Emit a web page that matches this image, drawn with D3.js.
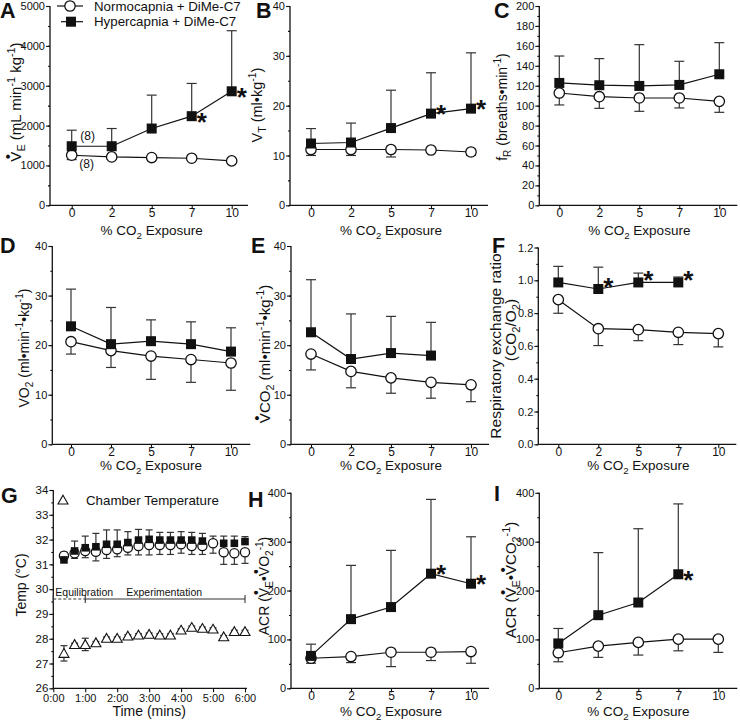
<!DOCTYPE html>
<html><head><meta charset="utf-8">
<script src="https://cdn.jsdelivr.net/npm/d3@7"></script>
<style>body{margin:0;background:#fff}svg{display:block}text{font-family:'Liberation Sans',Arial,Helvetica,sans-serif;fill:#111}</style>
</head><body><script>
// ---------------- DATA ----------------
const co2Levels = ["0", "2", "5", "7", "10"];
const seriesNames = ["Normocapnia + DiMe-C7", "Hypercapnia + DiMe-C7"];

// A: minute ventilation (mL min-1 kg-1)
const veNormo = [1256, 1214, 1198, 1181, 1114];
const veNormoErr = [110, 60, 40, 40, 40];
const veHyper = [1482, 1482, 1926, 2236, 2860];
const veHyperErr = [402, 444, 838, 821, 1520];
// B: tidal volume (ml kg-1)
const vtNormo = [11.2, 11.2, 11.2, 11.1, 10.7];
const vtNormoErr = [1.2, 1.2, 1.5, 0.3, 0.7];
const vtHyper = [12.4, 12.6, 15.5, 18.4, 19.4];
const vtHyperErr = [3.0, 3.9, 7.6, 8.2, 11.2];
// C: breathing frequency
const frNormo = [112.7, 109, 107.7, 107.7, 104.3];
const frNormoErr = [12, 11.7, 13.4, 10, 11];
const frHyper = [122.8, 120.5, 119.8, 120.8, 131.5];
const frHyperErr = [27, 26.7, 41.4, 23.7, 31.7];
// D: VO2
const vo2Normo = [20.7, 18.9, 17.8, 17.1, 16.4];
const vo2NormoErr = [2.5, 3.4, 4.7, 4.6, 5.5];
const vo2Hyper = [23.8, 20.2, 20.8, 20.2, 18.7];
const vo2HyperErr = [7.5, 7.4, 4.3, 4.5, 4.8];
// E: VCO2
const vco2Normo = [18.2, 14.7, 13.4, 12.5, 12.0];
const vco2NormoErr = [3.2, 3.3, 3.1, 3.2, 3.4];
const vco2Hyper = [22.6, 17.2, 18.4, 17.9, null];
const vco2HyperErr = [10.6, 9.1, 7.4, 6.7, null];
// F: respiratory exchange ratio
const rerNormo = [0.882, 0.705, 0.699, 0.683, 0.675];
const rerNormoErr = [0.083, 0.103, 0.067, 0.075, 0.081];
const rerHyper = [0.987, 0.947, 0.987, 0.987, null];
const rerHyperErr = [0.098, 0.133, 0.057, 0.033, null];
// H: ACR (VE/VO2)
const acrO2Normo = [61.5, 65, 73.8, 73.8, 75.2];
const acrO2NormoErr = [10.2, 12.4, 29.4, 17, 24];
const acrO2Hyper = [66.3, 141.5, 166.2, 234.5, 214];
const acrO2HyperErr = [24, 110, 116, 152, 96];
// I: ACR (VE/VCO2)
const acrCO2Normo = [72.7, 86.3, 93.9, 100.6, 100.6];
const acrCO2NormoErr = [18.4, 23, 25.9, 23.9, 27.1];
const acrCO2Hyper = [91.8, 149.6, 175.5, 233.3, null];
const acrCO2HyperErr = [30.6, 128, 151, 144, null];

// significance markers (hypercapnia series)
const starsA = ["7", "10"];
const starsB = ["7", "10"];
const starsF = ["2", "5", "7"];
const starsH = ["7", "10"];
const starsI = ["7"];

// G: body / chamber temperature over time
const timePoints = ["0:20","0:40","1:00","1:20","1:40","2:00","2:20","2:40","3:00",
                    "3:20","3:40","4:00","4:20","4:40","5:00","5:20","5:40","6:00"];
const timeTickLabels = ["0:00","1:00","2:00","3:00","4:00","5:00","6:00"];
const tempNormo = [31.35,31.45,31.54,31.51,31.58,31.61,31.67,31.74,31.78,31.78,31.78,31.81,31.74,31.74,31.85,31.49,31.45,31.49];
const tempNormoErrDown = [0.15,0.21,0.27,0.37,0.34,0.30,0.29,0.36,0.40,0.38,0.38,0.36,0.34,0.34,0.40,0.49,0.45,0.45];
const tempNormoErrUp = [null,null,null,null,null,null,null,null,null,null,null,null,null,null,0.29,null,null,null];
const tempHyper = [31.18,31.54,31.67,31.71,31.81,31.81,31.88,31.98,32.01,31.98,31.98,31.98,31.98,31.94,null,31.85,31.85,31.92];
const tempHyperErr = [0.31,0.40,0.47,0.54,0.58,0.58,0.44,0.43,0.38,0.31,0.31,0.34,0.31,0.31,null,0.29,0.29,0.20];
const tempChamber = [27.41,27.77,27.77,27.84,28.02,28.02,28.11,28.15,28.18,28.15,28.15,28.35,28.46,28.42,28.39,28.08,28.29,28.29];
const tempChamberErr = [0.31,0.05,0.25,0.05,0.05,0.05,0.05,0.05,0.05,0.05,0.05,0.05,0.05,0.05,0.05,0.05,0.05,0.05];
const phaseLabels = ["Equilibration", "Experimentation"];
const phaseBounds = [0, 1, 6];   // minutes
const phaseLevel = 29.6;         // °C line level

// ---------------- DRAWING ----------------
const svg = d3.select("body").append("svg").attr("width", 740).attr("height", 721);
const INK = "#111", ERR = "#333";

function rich(sel, segs, fs) {
  let shift = 0, pendingDx = 0;
  const Vw = 0.667 * fs, dw = 0.35 * fs;
  segs.forEach(([type, str]) => {
    const t = sel.append("tspan");
    let target = 0, size = fs, dx = pendingDx;
    pendingDx = 0;
    if (type === "sub") { target = 0.28 * fs; size = 0.72 * fs; }
    else if (type === "sup") { target = -0.42 * fs; size = 0.72 * fs; }
    else if (type === "dot") { target = -0.55 * fs; str = "\u2022"; dx += -(Vw + dw) / 2; pendingDx = (Vw - dw) / 2; }
    t.attr("dy", (target - shift).toFixed(2)).attr("font-size", size).text(str);
    if (dx) t.attr("dx", dx.toFixed(2));
    shift = target;
  });
}

function yLabel(segs, x, y, fs) {
  const t = svg.append("text").attr("transform", `translate(${x},${y}) rotate(-90)`)
    .attr("text-anchor", "middle").attr("font-size", fs);
  rich(t, segs, fs);
}

function letter(ch, x, y) {
  svg.append("text").attr("x", x).attr("y", y).attr("font-size", 21.5).attr("font-weight", "bold").text(ch);
}

function yAxisDraw(g, y, axisX, yMax, step, fmt, fs) {
  const n = Math.round(yMax / step);
  const major = d3.range(n + 1).map(i => i * step);
  const minor = d3.range(2 * n + 1).map(i => i * step / 2);
  const ax = g.append("g").attr("transform", `translate(${axisX},0)`);
  ax.call(d3.axisLeft(y).tickValues(minor).tickSize(2).tickSizeOuter(0).tickFormat(""));
  const ax2 = g.append("g").attr("transform", `translate(${axisX},0)`);
  ax2.call(d3.axisLeft(y).tickValues(major).tickSize(4).tickSizeOuter(0).tickPadding(1).tickFormat(fmt));
  [ax, ax2].forEach(a => { a.select(".domain").remove(); a.selectAll("line").attr("stroke", INK).attr("stroke-width", 1.1); });
  ax2.selectAll("text").attr("font-size", fs).attr("fill", INK).attr("font-family", null);
  g.append("line").attr("x1", axisX).attr("x2", axisX).attr("y1", y.range()[0]).attr("y2", y.range()[1])
    .attr("stroke", INK).attr("stroke-width", 1.3);
}

function markerCircle(g, cx, cy, r) {
  g.append("circle").attr("cx", cx).attr("cy", cy).attr("r", r).attr("fill", "#fff").attr("stroke", INK).attr("stroke-width", 1.3);
}
function markerSquare(g, cx, cy, s) {
  g.append("rect").attr("x", cx - s / 2).attr("y", cy - s / 2).attr("width", s).attr("height", s).attr("fill", INK);
}
function errBar(g, cx, y0, y1, cap) {
  g.append("line").attr("x1", cx).attr("x2", cx).attr("y1", y0).attr("y2", y1).attr("stroke", ERR).attr("stroke-width", 1.2);
  g.append("line").attr("x1", cx - cap).attr("x2", cx + cap).attr("y1", y1).attr("y2", y1).attr("stroke", ERR).attr("stroke-width", 1.2);
}

const xTitle = [["n", "% CO"], ["sub", "2"], ["n", " Exposure"]];

function co2Panel(p) {
  const g = svg.append("g");
  const x = d3.scalePoint().domain(co2Levels).range([p.x0, p.x0 + 160]);
  const y = d3.scaleLinear().domain([0, p.yMax]).range([p.bottom, p.top]);
  yAxisDraw(g, y, p.axisX, p.yMax, p.step, p.fmt, 11);
  const xa = g.append("g").attr("transform", `translate(0,${p.bottom})`)
    .call(d3.axisBottom(x).tickSize(4).tickSizeOuter(0).tickPadding(0));
  xa.select(".domain").remove();
  xa.selectAll("line").attr("stroke", INK).attr("stroke-width", 1.1);
  xa.selectAll("text").attr("font-size", 12).attr("fill", INK).attr("font-family", null).attr("dy", "0.64em");
  g.append("line").attr("x1", p.axisX).attr("x2", p.axisX + 198).attr("y1", p.bottom).attr("y2", p.bottom)
    .attr("stroke", INK).attr("stroke-width", 1.3);
  const tt = g.append("text").attr("x", p.x0 + 80).attr("y", p.bottom + p.titleGap).attr("text-anchor", "middle").attr("font-size", 13.5);
  rich(tt, xTitle, 13.5);

  const series = [
    { vals: p.normo, err: p.normoErr, dir: -1 },
    { vals: p.hyper, err: p.hyperErr, dir: 1 }
  ];
  const ptsOf = s => co2Levels.map((c, i) => ({ c, v: s.vals[i], e: s.err[i] })).filter(d => d.v != null);
  series.forEach(s => ptsOf(s).forEach(d => errBar(g, x(d.c), y(d.v), y(d.v + s.dir * d.e), 5)));
  series.forEach(s => g.append("path").datum(ptsOf(s))
    .attr("d", d3.line().x(d => x(d.c)).y(d => y(d.v))).attr("fill", "none").attr("stroke", INK).attr("stroke-width", 1.2));
  ptsOf(series[0]).forEach(d => markerCircle(g, x(d.c), y(d.v), 5.2));
  ptsOf(series[1]).forEach(d => markerSquare(g, x(d.c), y(d.v), 10));
  (p.stars || []).forEach(c => {
    const i = co2Levels.indexOf(c);
    g.append("text").attr("x", x(c) + 10).attr("y", y(p.hyper[i]) + p.starDy + 15)
      .attr("text-anchor", "middle").attr("font-size", 26).attr("font-weight", "bold").text("*");
  });
  return { g, x, y };
}

// Row 1
const A = co2Panel({ axisX: 50, x0: 71.7, top: 6, bottom: 205.3, yMax: 5000, step: 1000, fmt: d3.format("d"),
  normo: veNormo, normoErr: veNormoErr, hyper: veHyper, hyperErr: veHyperErr, stars: starsA, starDy: 0, titleGap: 29.5 });
co2Panel({ axisX: 290, x0: 311, top: 6, bottom: 205.3, yMax: 40, step: 10, fmt: d3.format("d"),
  normo: vtNormo, normoErr: vtNormoErr, hyper: vtHyper, hyperErr: vtHyperErr, stars: starsB, starDy: -6, titleGap: 29.5 });
co2Panel({ axisX: 539.3, x0: 559.3, top: 6, bottom: 205.3, yMax: 200, step: 20, fmt: d3.format("d"),
  normo: frNormo, normoErr: frNormoErr, hyper: frHyper, hyperErr: frHyperErr, titleGap: 29.5 });
// Row 2
co2Panel({ axisX: 52.3, x0: 71, top: 246, bottom: 444.3, yMax: 40, step: 10, fmt: d3.format("d"),
  normo: vo2Normo, normoErr: vo2NormoErr, hyper: vo2Hyper, hyperErr: vo2HyperErr, titleGap: 25.5 });
co2Panel({ axisX: 291, x0: 311, top: 246, bottom: 444.3, yMax: 40, step: 10, fmt: d3.format("d"),
  normo: vco2Normo, normoErr: vco2NormoErr, hyper: vco2Hyper, hyperErr: vco2HyperErr, titleGap: 25.5 });
co2Panel({ axisX: 538.3, x0: 558.3, top: 247.5, bottom: 444.3, yMax: 1.2, step: 0.2, fmt: d3.format(".1f"),
  normo: rerNormo, normoErr: rerNormoErr, hyper: rerHyper, hyperErr: rerHyperErr, stars: starsF, starDy: -8, titleGap: 25.5 });
// Row 3
co2Panel({ axisX: 291, x0: 311, top: 492.8, bottom: 688.3, yMax: 400, step: 100, fmt: d3.format("d"),
  normo: acrO2Normo, normoErr: acrO2NormoErr, hyper: acrO2Hyper, hyperErr: acrO2HyperErr, stars: starsH, starDy: -6, titleGap: 28 });
co2Panel({ axisX: 539.3, x0: 558.3, top: 492.8, bottom: 688.3, yMax: 400, step: 100, fmt: d3.format("d"),
  normo: acrCO2Normo, normoErr: acrCO2NormoErr, hyper: acrCO2Hyper, hyperErr: acrCO2HyperErr, stars: starsI, starDy: 0, titleGap: 28 });

// annotations in A: group sizes
A.g.append("text").attr("x", A.x("0") + 16).attr("y", A.y(veHyper[0]) - 6).attr("text-anchor", "middle").attr("font-size", 12).text("(8)");
A.g.append("text").attr("x", A.x("0") + 15).attr("y", A.y(veNormo[0]) + 13).attr("text-anchor", "middle").attr("font-size", 12).text("(8)");

// legend in A
[0, 1].forEach(i => {
  const ly = 6 + i * 15.7;
  svg.append("line").attr("x1", 57 + i * 4).attr("x2", 83).attr("y1", ly).attr("y2", ly).attr("stroke", INK).attr("stroke-width", 1.2);
  if (i === 0) markerCircle(svg, 70, ly, 5.2); else markerSquare(svg, 71, ly, 10);
  svg.append("text").attr("x", 94).attr("y", ly + 4.7).attr("font-size", 13.3).text(seriesNames[i]);
});

// ---------- Panel G ----------
(function () {
  const g = svg.append("g");
  const axisX = 53.3, bottom = 688.3, top = 490;
  const toMin = s => { const [m, sec] = s.split(":").map(Number); return m + sec / 60; };
  const x = d3.scaleLinear().domain([0, 6]).range([axisX, 245]);
  const y = d3.scaleLinear().domain([26, 34]).range([bottom, top]);
  const major = d3.range(26, 35), minor = d3.range(0, 17).map(i => 26 + i / 2);
  const a1 = g.append("g").attr("transform", `translate(${axisX},0)`).call(d3.axisLeft(y).tickValues(minor).tickSize(2).tickFormat(""));
  const a2 = g.append("g").attr("transform", `translate(${axisX},0)`).call(d3.axisLeft(y).tickValues(major).tickSize(4).tickPadding(1).tickFormat(d3.format("d")));
  [a1, a2].forEach(a => { a.select(".domain").remove(); a.selectAll("line").attr("stroke", INK).attr("stroke-width", 1.1); });
  a2.selectAll("text").attr("font-size", 11.5).attr("fill", INK).attr("font-family", null);
  g.append("line").attr("x1", axisX).attr("x2", axisX).attr("y1", bottom).attr("y2", top).attr("stroke", INK).attr("stroke-width", 1.3);
  const xa = g.append("g").attr("transform", `translate(0,${bottom})`)
    .call(d3.axisBottom(x).tickValues(d3.range(0, 7)).tickSize(4).tickPadding(1).tickFormat((d, i) => timeTickLabels[i]));
  xa.select(".domain").remove();
  xa.selectAll("line").attr("stroke", INK).attr("stroke-width", 1.1);
  xa.selectAll("text").attr("font-size", 11).attr("fill", INK).attr("font-family", null).attr("dy", "0.8em");
  g.append("line").attr("x1", axisX).attr("x2", 247).attr("y1", bottom).attr("y2", bottom).attr("stroke", INK).attr("stroke-width", 1.3);
  g.append("text").attr("x", x(3)).attr("y", bottom + 28).attr("text-anchor", "middle").attr("font-size", 14).text("Time (mins)");

  const py = y(phaseLevel);
  g.append("line").attr("x1", x(phaseBounds[0])).attr("x2", x(phaseBounds[1])).attr("y1", py).attr("y2", py)
    .attr("stroke", "#333").attr("stroke-width", 1.1).attr("stroke-dasharray", "3,2");
  g.append("line").attr("x1", x(phaseBounds[1])).attr("x2", x(phaseBounds[2])).attr("y1", py).attr("y2", py)
    .attr("stroke", "#333").attr("stroke-width", 1.1);
  phaseBounds.forEach(b => g.append("line").attr("x1", x(b)).attr("x2", x(b)).attr("y1", py - 4).attr("y2", py + 4).attr("stroke", "#333").attr("stroke-width", 1.1));
  g.append("text").attr("x", x(phaseBounds[0]) + 2).attr("y", py - 3).attr("font-size", 10.5).text(phaseLabels[0]);
  g.append("text").attr("x", x(phaseBounds[1]) + 41).attr("y", py - 3).attr("font-size", 10.5).text(phaseLabels[1]);

  const tri = (cx, cy) => g.append("path").attr("d", `M${cx},${cy - 4.8}L${cx + 5},${cy + 4}L${cx - 5},${cy + 4}Z`)
    .attr("fill", "#fff").attr("stroke", INK).attr("stroke-width", 1.1);

  const tp = timePoints.map(toMin);
  tp.forEach((t, i) => {
    errBar(g, x(t), y(tempChamber[i]), y(tempChamber[i] + tempChamberErr[i]), 3.5);
    errBar(g, x(t), y(tempChamber[i]), y(tempChamber[i] - tempChamberErr[i]), 3.5);
  });
  tp.forEach((t, i) => tri(x(t), y(tempChamber[i])));
  tp.forEach((t, i) => {
    if (tempHyper[i] != null) errBar(g, x(t), y(tempHyper[i]), y(tempHyper[i] + tempHyperErr[i]), 3.5);
    errBar(g, x(t), y(tempNormo[i]), y(tempNormo[i] - tempNormoErrDown[i]), 3.5);
    if (tempNormoErrUp[i] != null) errBar(g, x(t), y(tempNormo[i]), y(tempNormo[i] + tempNormoErrUp[i]), 3.5);
  });
  tp.forEach((t, i) => markerCircle(g, x(t), y(tempNormo[i]), 4.6));
  tp.forEach((t, i) => { if (tempHyper[i] != null) markerSquare(g, x(t), y(tempHyper[i]), 7.6); });
  tri(63, 500);
  g.append("text").attr("x", 86).attr("y", 505).attr("font-size", 13.3).text("Chamber Temperature");
})();

// ---------- axis labels ----------
yLabel([["n", "V"], ["dot"], ["sub", "E"], ["n", " (mL min"], ["sup", "-1"], ["n", " kg"], ["sup", "-1"], ["n", ")"]], 21, 102, 15);
yLabel([["n", "V"], ["sub", "T"], ["n", " (ml\u2022kg"], ["sup", "-1"], ["n", ")"]], 262, 105, 14.5);
yLabel([["n", "f"], ["sub", "R"], ["n", " (breaths\u2022min"], ["sup", "-1"], ["n", ")"]], 507, 107, 14);
yLabel([["n", "VO"], ["sub", "2"], ["n", " (ml\u2022min"], ["sup", "-1"], ["n", "\u2022kg"], ["sup", "-1"], ["n", ")"]], 29, 348, 14);
yLabel([["n", "V"], ["dot"], ["n", "CO"], ["sub", "2"], ["n", " (ml\u2022min"], ["sup", "-1"], ["n", "\u2022kg"], ["sup", "-1"], ["n", ")"]], 270, 354, 15);
yLabel([["n", "Respiratory exchange ratio"]], 501, 346, 15.5);
yLabel([["n", "(CO"], ["sub", "2"], ["n", "/O"], ["sub", "2"], ["n", ")"]], 516, 330, 15.5);
yLabel([["n", "Temp (\u00B0C)"]], 26, 585, 14);
yLabel([["n", "ACR (V"], ["dot"], ["sub", "E"], ["n", "\u2022V"], ["dot"], ["n", "O"], ["sub", "2"], ["sup", "-1"], ["n", ")"]], 269, 586, 14);
yLabel([["n", "ACR (V"], ["dot"], ["sub", "E"], ["n", "\u2022V"], ["dot"], ["n", "CO"], ["sub", "2"], ["sup", "-1"], ["n", ")"]], 516, 580, 15);

// panel letters
letter("A", 0, 18); letter("B", 256, 18); letter("C", 494, 18);
letter("D", 0, 253); letter("E", 251, 253); letter("F", 492, 253);
letter("G", 1, 503); letter("H", 248, 507); letter("I", 494, 501);
</script></body></html>
